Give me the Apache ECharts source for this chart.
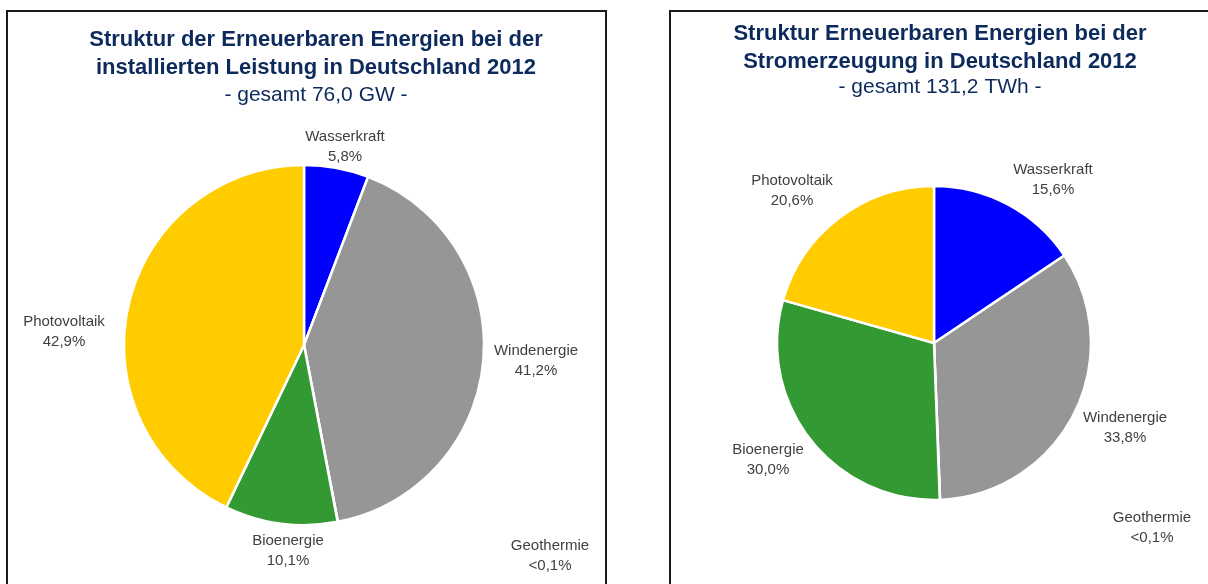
<!DOCTYPE html>
<html>
<head>
<meta charset="utf-8">
<script src="https://cdn.jsdelivr.net/npm/echarts@6/dist/echarts.min.js"></script>
<style>
  html, body { margin: 0; padding: 0; background: #fff; }
  #chart { width: 1208px; height: 584px; }
</style>
</head>
<body>
<div id="chart"></div>
<script>
  // Kategorien (Reihenfolge im Uhrzeigersinn ab 12 Uhr)
  var categories = ['Wasserkraft', 'Windenergie', 'Geothermie', 'Bioenergie', 'Photovoltaik'];
  // Anteile in Prozent
  var leistung2012 = [5.8, 41.2, 0.02, 10.1, 42.9];
  var strom2012 = [15.6, 33.8, 0.03, 30.0, 20.6];
  var colors = ['#0000ff', '#969696', '#969696', '#339933', '#ffcc00'];

  // Beschriftungspositionen (Pixel) je Kategorie
  var labelPosLeft = [[345, 147], [536, 361], [550, 556], [288, 551], [64, 332]];
  var labelPosRight = [[1053, 180], [1125, 428], [1152, 528], [768, 460], [792, 191]];

  function pct(v) {
    if (v < 0.1) return '<0,1%';
    return v.toFixed(1).replace('.', ',') + '%';
  }

  function makeData(values) {
    return categories.map(function (name, i) {
      return { name: name, value: values[i], itemStyle: { color: colors[i] } };
    });
  }

  function makeSeries(values, center, radius, positions) {
    return {
      type: 'pie',
      center: center,
      radius: radius,
      startAngle: 90,
      clockwise: true,
      avoidLabelOverlap: false,
      animation: false,
      emphasis: { disabled: true },
      itemStyle: { borderColor: '#ffffff', borderWidth: 2.5 },
      label: {
        show: true,
        position: 'outside',
        color: '#404040',
        fontFamily: 'Liberation Sans, Arial, sans-serif',
        fontSize: 15,
        lineHeight: 20,
        align: 'center',
        formatter: function (p) { return p.name + '\n' + pct(p.value); }
      },
      labelLine: { show: false },
      labelLayout: function (params) {
        var pos = positions[params.dataIndex];
        return { x: pos[0], y: pos[1], align: 'center', verticalAlign: 'middle' };
      },
      data: makeData(values)
    };
  }

  var chart = echarts.init(document.getElementById('chart'), null, { renderer: 'canvas' });

  var titleFont = 'Liberation Sans, Arial, sans-serif';
  var titleColor = '#0d2a5c';
  chart.setOption({
    backgroundColor: '#ffffff',
    title: [
      {
        text: 'Struktur der Erneuerbaren Energien bei der\ninstallierten Leistung in Deutschland 2012',
        left: 311, top: 21, textAlign: 'center',
        textStyle: { color: titleColor, fontSize: 22, fontWeight: 'bold', fontFamily: titleFont, lineHeight: 28 }
      },
      {
        text: '- gesamt 76,0 GW -',
        left: 311, top: 80, textAlign: 'center',
        textStyle: { color: titleColor, fontSize: 21, fontWeight: 'normal', fontFamily: titleFont }
      },
      {
        text: 'Struktur Erneuerbaren Energien bei der\nStromerzeugung in Deutschland 2012',
        left: 935, top: 15, textAlign: 'center',
        textStyle: { color: titleColor, fontSize: 22, fontWeight: 'bold', fontFamily: titleFont, lineHeight: 28 }
      },
      {
        text: '- gesamt 131,2 TWh -',
        left: 935, top: 72, textAlign: 'center',
        textStyle: { color: titleColor, fontSize: 21, fontWeight: 'normal', fontFamily: titleFont }
      }
    ],
    graphic: [
      { type: 'rect', shape: { x: 7, y: 11, width: 599, height: 600 }, style: { fill: 'none', stroke: '#1a1a1a', lineWidth: 2 }, silent: true },
      { type: 'rect', shape: { x: 670, y: 11, width: 560, height: 600 }, style: { fill: 'none', stroke: '#1a1a1a', lineWidth: 2 }, silent: true }
    ],
    series: [
      makeSeries(leistung2012, [304, 345], 180, labelPosLeft),
      makeSeries(strom2012, [934, 343], 157, labelPosRight)
    ]
  });
</script>
</body>
</html>
